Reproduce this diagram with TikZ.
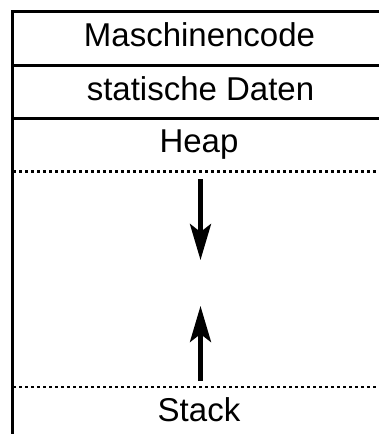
\documentclass[tikz,border=0pt]{standalone}
\usepackage{fontspec}
\setmainfont{Liberation Sans}
\usetikzlibrary{arrows.meta}
\begin{document}
\begin{tikzpicture}[x=1pt,y=1pt,
  solidline/.style={line width=3pt},
  dotline/.style={line width=2.4pt, dash pattern=on 3pt off 3pt},
  growarrow/.style={line width=4.5pt, -{Stealth[length=36pt, width=21pt, inset=8pt]}},
  label/.style={anchor=base, inner sep=0pt, font=\fontsize{33}{38}\selectfont}]
\useasboundingbox (0,0) rectangle (379,-434);
\clip (0,0) rectangle (379,-434);
% frame
\draw[solidline, line width=3.4pt] (12.5,-434) -- (12.5,-11.5) -- (379,-11.5);
\draw[solidline] (12.5,-65) -- (379,-65);
\draw[solidline] (12.5,-118.5) -- (379,-118.5);
\draw[dotline] (13,-171.5) -- (379,-171.5);
\draw[dotline] (13,-387) -- (379,-387);
% labels
\node[label] (mc) at (199.5,-46.5) {Maschinencode};
\node[label] (sd) at (200.5,-100.5) {statische Daten};
\node[label] (hp) at (199,-152.5) {Heap};
\node[label] (st) at (199,-421) {Stack};
% arrows
\coordinate (d1) at (200.5,-179);
\coordinate (d2) at (200.5,-260);
\coordinate (u1) at (200.5,-381);
\coordinate (u2) at (200.5,-306);
\draw[growarrow] (d1) -- (d2);
\draw[growarrow] (u1) -- (u2);
\end{tikzpicture}
\end{document}
